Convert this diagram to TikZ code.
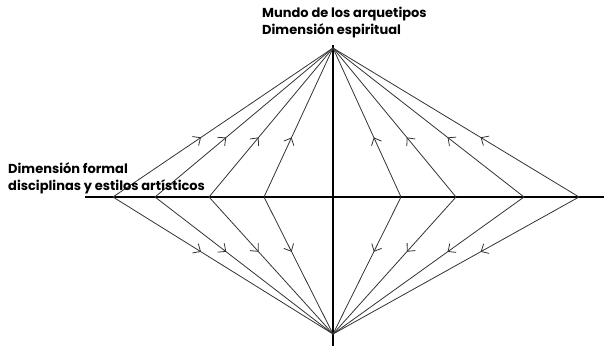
\documentclass[tikz,border=0pt]{standalone}
\usepackage{fontspec}
\setmainfont{Poppins}
\usetikzlibrary{arrows.meta,decorations.markings}

\tikzset{
  axis/.style={line width=2.2pt, black},
  flow/.style={line width=0.8pt, black!80, postaction={decorate},
    decoration={markings, mark=at position 0.4 with {\arrow{Straight Barb[length=6pt,width=11pt,line width=0.8pt]}}}},
  lbl/.style={font=\fontsize{13}{17}\selectfont\bfseries, align=left, inner sep=0pt}
}

\begin{document}
\begin{tikzpicture}[x=1pt,y=-1pt]
			\useasboundingbox (0,0) rectangle (604,347);
			% ejes
			\coordinate (T) at (333,48);
			\coordinate (B) at (333,334);
			\coordinate (Vtop) at (333,45);
			\coordinate (Vbot) at (333,346);
			\coordinate (Hl) at (85,197);
			\coordinate (Hr) at (604,197);
			\draw[axis] (Vtop) -- (Vbot);
			\draw[axis] (Hl) -- (Hr);
			% puntos sobre la dimension formal
			\coordinate (L1) at (113,197);
			\coordinate (L2) at (155,197);
			\coordinate (L3) at (209,197);
			\coordinate (L4) at (264,197);
			\coordinate (R1) at (401,197);
			\coordinate (R2) at (456,197);
			\coordinate (R3) at (524,197);
			\coordinate (R4) at (579,197);
			\foreach \p in {L1,L2,L3,L4,R1,R2,R3,R4} {
				\draw[flow] (\p) -- (T);
				\draw[flow] (\p) -- (B);
			}
			% textos
			\node[lbl, anchor=south west] (mundo) at (262,38) {Mundo de los arquetipos\\Dimensión espiritual};
			\node[lbl, anchor=south west] (formal) at (8,194) {Dimensión formal\\disciplinas y estilos artísticos};
		\end{tikzpicture}
\end{document}
